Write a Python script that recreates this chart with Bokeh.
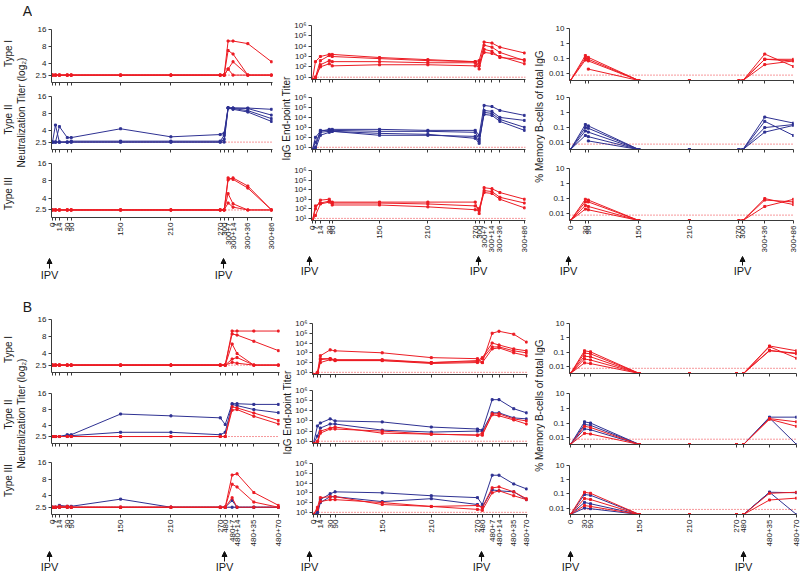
import math
from bokeh.plotting import figure
from bokeh.models import (Range1d, FixedTicker, CustomJSTickFormatter, Span, Arrow,
                          NormalHead, Label)
from bokeh.layouts import row, column
from bokeh.embed import file_html
from bokeh.resources import INLINE

N = float("nan")
RED = "#ec1c24"
BLUE = "#2e3192"
FONT = "Liberation Sans"
PI2 = math.pi / 2

# ---------------- tick labels (time points, days) ----------------
A_NT_DAYS = ["0", "7", "14", "30", "90", "150", "210", "270", "300", "300+7", "300+14", "300+36", "300+86"]
A_MEM_DAYS = ["0", "30", "90", "150", "210", "270", "300", "300+36", "300+86"]
B_NT_DAYS = ["0", "7", "14", "30", "90", "150", "210", "270", "480", "480+7", "480+14", "480+35", "480+70"]
B_MEM_DAYS = ["0", "30", "90", "150", "210", "270", "480", "480+35", "480+70"]

# axis position of each time point (broken, non-linear time axis)
A_NT_POS = [0, 3, 7, 15, 19, 69, 120, 170, 174, 178, 183, 198, 222]
A_IGG_POS = [0, 3, 8, 17, 20, 68, 117, 165, 169, 174, 182, 190, 215]
A_MEM_POS = [0, 15, 18, 69, 120, 170, 174, 196, 225]
B_NT_POS = [0, 3, 7, 15, 19, 69, 120, 170, 175, 182, 187, 204, 229]
B_IGG_POS = [0, 4, 7, 17, 22, 70, 120, 167, 172, 182, 189, 204, 217]
B_MEM_POS = [0, 14, 20, 69, 119, 166, 173, 199, 226]

# ---------------- y ticks ----------------
NT_TICKS = [2.5, 4, 8, 16]
IGG_TICKS = [10, 100, 1000, 10000, 100000, 1000000]
MEM_TICKS = [0.01, 0.1, 1, 10]

# ---------------- Panel A : neutralization titers ----------------
A_NT_I_RED = [
    [2.5, 2.5, 2.5, 2.5, 2.5, 2.5, 2.5, 2.5, 2.5, 10, 10, 9, 4.3],
    [2.5, 2.5, 2.5, 2.5, 2.5, 2.5, 2.5, 2.5, 2.5, 6.8, 5.9, 2.5, 2.5],
    [2.5, 2.5, 2.5, 2.5, 2.5, 2.5, 2.5, 2.5, 2.5, 3.2, 4.3, 2.5, 2.5],
    [2.5, 2.5, 2.5, 2.5, 2.5, 2.5, 2.5, 2.5, 2.5, 3.2, 2.5, 2.5, 2.5],
]
A_NT_II_BLUE = [
    [2.5, 5.0, 2.5, 2.5, 2.6, 2.6, 2.6, 2.6, 3.3, 10, 10, 10, 9.5],
    [2.5, 2.5, 4.7, 3.0, 3.0, 4.3, 3.1, 3.4, 3.6, 10.2, 10, 9.8, 7.5],
    [2.5, 2.5, 2.5, 2.5, 2.5, 2.5, 2.5, 2.5, 2.8, 10, 9.8, 9, 6.5],
    [2.5, 2.5, 2.5, 2.5, 2.5, 2.5, 2.5, 2.5, 2.5, 10, 9.5, 8.5, 5.8],
]
A_NT_III_RED = [
    [2.5, 2.5, 2.5, 2.5, 2.5, 2.5, 2.5, 2.5, 2.5, 8.3, 9.0, 6.5, 2.5],
    [2.5, 2.5, 2.5, 2.5, 2.5, 2.5, 2.5, 2.5, 2.5, 9.0, 8.5, 6.0, 2.5],
    [2.5, 2.5, 2.5, 2.5, 2.5, 2.5, 2.5, 2.5, 2.5, 4.8, 3.2, 2.5, 2.5],
    [2.5, 2.5, 2.5, 2.5, 2.5, 2.5, 2.5, 2.5, 2.5, 3.3, 2.8, 2.5, 2.5],
]
# ---------------- Panel A : IgG end-point titers ----------------
A_IGG_I_RED = [
    [6, 320, 1000, 1600, 1600, 800, 500, 320, 400, 25000, 20000, 8000, 2200],
    [6, 10, 400, 1250, 1000, 630, 400, 320, 125, 12500, 8000, 2500, 400],
    [6, 6, 160, 400, 320, 320, 250, 250, 63, 5000, 3200, 800, 500],
    [6, 10, 100, 200, 125, 160, 160, 125, 250, 2500, 2000, 1000, 200],
]
A_IGG_II_BLUE = [
    [6, 100, 400, 630, 630, 630, 500, 500, 160, 160000, 125000, 50000, 16000],
    [6, 10, 500, 500, 500, 400, 400, 320, 63, 32000, 25000, 6300, 1000],
    [6, 32, 320, 400, 400, 160, 160, 125, 40, 20000, 16000, 4000, 500],
    [6, 6, 160, 320, 400, 250, 200, 80, 25, 50000, 40000, 10000, 5000],
]
A_IGG_III_RED = [
    [6, 200, 400, 630, 500, 500, 500, 500, 32, 16000, 12500, 5000, 1000],
    [6, 100, 800, 1000, 400, 400, 320, 200, 100, 8000, 6300, 1600, 400],
    [6, 20, 320, 500, 250, 250, 160, 80, 63, 5000, 4000, 1000, 125],
]
# ---------------- Panel A : % memory B cells (0 = not detected) ----------------
A_MEM_I_RED = [
    [0, 0.16, 0.12, 0, 0, 0, 0, 0.2, 0.03],
    [0, 0.11, 0.09, 0, 0, 0, 0, 0.09, 0.09],
    [0, 0.08, 0.07, 0, 0, 0, 0, 0.04, 0.07],
    [0, N, 0.02, 0, 0, 0, 0, 0.09, 0.07],
]
A_MEM_II_BLUE = [
    [0, 0.16, 0.13, 0, 0, 0, 0, 0.5, 0.2],
    [0, 0.1, 0.09, 0, 0, 0, 0, 0.26, 0.03],
    [0, 0.06, 0.05, 0, 0, 0, 0, 0.1, 0.16],
    [0, 0.03, 0.025, 0, 0, 0, 0, 0.05, 0.14],
    [0, N, 0.013, 0, 0, 0, 0, N, N],
]
A_MEM_III_RED = [
    [0, 0.09, 0.08, 0, 0, 0, 0, 0.1, 0.04],
    [0, 0.06, 0.06, 0, 0, 0, 0, 0.08, 0.06],
    [0, 0.035, 0.03, 0, 0, 0, 0, 0.03, 0.09],
    [0, 0.02, 0.018, 0, 0, 0, 0, N, N],
]

# ---------------- Panel B : neutralization titers ----------------
B_NT_I_RED = [
    [2.5, 2.5, 2.5, 2.5, 2.5, 2.5, 2.5, 2.5, 2.5, 10, 10, 10, 10],
    [2.5, 2.5, 2.5, 2.5, 2.5, 2.5, 2.5, 2.5, 2.5, 8.9, 8.5, 6.6, 4.5],
    [2.5, 2.5, 2.5, 2.5, 2.5, 2.5, 2.5, 2.5, 2.5, 5.9, 4.0, 2.5, 2.5],
    [2.5, 2.5, 2.5, 2.5, 2.5, 2.5, 2.5, 2.5, 2.5, 3.2, 3.4, 2.5, 2.5],
    [2.5, 2.5, 2.5, 2.5, 2.5, 2.5, 2.5, 2.5, 2.5, 2.8, 2.7, 2.5, 2.5],
]
B_NT_II_BLUE = [
    [2.5, 2.5, 2.5, 2.7, 2.7, 6.6, 6.1, 5.6, 4.2, 10.3, 10.3, 10, 10],
    [2.5, 2.5, 2.5, 2.6, 2.6, 3.0, 3.0, 2.7, 3.0, 10, 9.5, 8, 7],
]
B_NT_II_RED = [
    [2.5, 2.5, 2.5, 2.5, 2.5, 2.5, 2.5, 2.5, 2.5, 9, 8.6, 6.9, 5],
    [2.5, 2.5, 2.5, 2.5, 2.5, 2.5, 2.5, 2.5, 2.5, 7.8, 8, 6, 4.3],
]
B_NT_III_BLUE = [
    [2.5, 2.5, 2.7, 2.6, 2.6, 3.5, 2.5, 2.5, 2.5, 3.3, 2.5, 2.5, 2.5],
    [2.5, 2.5, 2.5, 2.5, 2.5, 2.5, 2.5, 2.5, 2.5, 2.5, 2.5, 2.5, 2.5],
]
B_NT_III_RED = [
    [2.5, 2.5, 2.6, 2.6, 2.5, 2.5, 2.5, 2.5, 2.5, 9.5, 10, 4.6, 2.7],
    [2.5, 2.5, 2.5, 2.5, 2.5, 2.5, 2.5, 2.5, 2.5, 6.5, 5.8, 3.1, 2.5],
    [2.5, 2.5, 2.5, 2.5, 2.5, 2.5, 2.5, 2.5, 2.5, 3.7, 2.5, 2.5, 2.5],
]
# ---------------- Panel B : IgG end-point titers ----------------
B_IGG_I_RED = [
    [6, 10, 500, 2000, 1600, 1000, 320, 250, 100, 100000, 160000, 80000, 12500],
    [6, 6, 200, 250, 200, 200, 100, 160, 320, 10000, 6300, 2500, 1600],
    [6, 6, 250, 250, 160, 160, 80, 100, 250, 4000, 4000, 1600, 1000],
    [6, 6, 100, 200, 160, 160, 100, 125, 100, 2500, 3200, 1000, 500],
]
B_IGG_II_BLUE = [
    [6, 320, 630, 1600, 1000, 800, 250, 160, 125, 125000, 125000, 16000, 6300],
    [6, 32, 200, 500, 500, 125, 80, 100, 100, 6300, 6300, 2000, 1600],
]
B_IGG_II_RED = [
    [6, 10, 100, 200, 250, 63, 50, 40, 63, 5000, 5000, 1600, 1000],
    [6, 6, 63, 160, 160, 100, 50, 40, 40, 4000, 3200, 1250, 500],
]
B_IGG_III_BLUE = [
    [6, 10, 200, 800, 1250, 1000, 500, 320, 63, 63000, 63000, 8000, 2500],
    [6, 6, 100, 400, 400, 125, 250, 63, 32, 2000, 1600, 1250, 200],
]
B_IGG_III_RED = [
    [6, 32, 320, 400, 400, 63, 40, 50, 32, 3200, 4000, 1250, 250],
    [6, 20, 125, 200, 200, 100, 40, 20, 16, 1000, 1600, 500, 200],
]
# ---------------- Panel B : % memory B cells ----------------
B_MEM_I_RED = [
    [0, 0.13, 0.11, 0, 0, 0, 0, 0.28, 0.13],
    [0, 0.09, 0.08, 0, 0, 0, 0, 0.14, 0.08],
    [0, 0.055, 0.05, 0, 0, 0, 0, 0.25, 0.04],
    [0, 0.035, 0.03, 0, 0, 0, 0, 0.13, 0.09],
    [0, 0.019, 0.017, 0, 0, 0, 0, N, N],
]
B_MEM_II_BLUE = [
    [0, 0.12, 0.1, 0, 0, 0, 0, 0.25, 0.25],
    [0, 0.08, 0.07, 0, 0, 0, 0, 0.22, 0],
    [0, 0.04, 0.035, 0, 0, 0, 0, N, N],
]
B_MEM_II_RED = [
    [0, 0.06, 0.05, 0, 0, 0, 0, 0.2, 0.12],
    [0, 0.02, 0.018, 0, 0, 0, 0, 0.18, 0.06],
]
B_MEM_III_BLUE = [
    [0, 0.09, 0.08, 0, 0, 0, 0, 0.13, 0],
    [0, 0.025, 0.02, 0, 0, 0, 0, 0.13, 0.12],
    [0, 0.01, 0.009, 0, 0, 0, 0, N, N],
]
B_MEM_III_RED = [
    [0, 0.13, 0.11, 0, 0, 0, 0, 0.11, 0.13],
    [0, 0.047, 0.04, 0, 0, 0, 0, 0.037, 0.05],
    [0, 0.015, 0.013, 0, 0, 0, 0, N, N],
]

# ---------------- y-axis kinds ----------------
KINDS = {
    "nt": dict(ylim=(1.85, 16), ticks=NT_TICKS, lod=2.5,
               code="return tick.toString();"),
    "igg": dict(ylim=(6, 1000000), ticks=IGG_TICKS, lod=10,
                code="const s=['\u2070','\u00b9','\u00b2','\u00b3','\u2074','\u2075','\u2076'];"
                     "return '10'+s[Math.round(Math.log10(tick))];"),
    "mem": dict(ylim=(0.0035, 10), ticks=MEM_TICKS, lod=0.008,
                code="return tick.toString();"),
}


def series(blue=None, red=None):
    out = []
    for vals in (blue or []):
        out.append((BLUE, vals))
    for vals in (red or []):
        out.append((RED, vals))
    return out


BLOCKS = [
    dict(top=0, ipv_top=255, bottom=290,
         labels=[
             (0, 32, [("A", 27, 10, "14px", 0), ("Type I", 8, 53, "10px", PI2),
                      ("Type II", 8, 119, "10px", PI2), ("Type III", 8, 193, "10px", PI2),
                      ("Neutralization Titer (log\u2082)", 21, 112, "10px", PI2)]),
             (280, 291, [("IgG End-point Titer", 285.5, 118, "10px", PI2)]),
             (532, 545, [("% Memory B-cells of total IgG", 538.5, 116, "10px", PI2)]),
         ],
         cols=[
             dict(kind="nt", left=32, right=280, fl=48, fr=272, pos=A_NT_POS, days=A_NT_DAYS,
                  frames=[(29, 82), (96, 149), (163, 217)], arrow=(268, 258), text_y=274,
                  ipv=[0, 8], ipv_span=(0, 280),
                  rows=[series(red=A_NT_I_RED), series(blue=A_NT_II_BLUE), series(red=A_NT_III_RED)]),
             dict(kind="igg", left=291, right=532, fl=308, fr=525, pos=A_IGG_POS, days=A_NT_DAYS,
                  frames=[(25, 79), (97, 149), (170, 221)], arrow=(265, 256), text_y=270,
                  ipv=[0, 8], ipv_span=(280, 532),
                  rows=[series(red=A_IGG_I_RED), series(blue=A_IGG_II_BLUE), series(red=A_IGG_III_RED)]),
             dict(kind="mem", left=545, right=800, fl=567, fr=793, pos=A_MEM_POS, days=A_MEM_DAYS,
                  frames=[(28, 80), (97, 149), (168, 220)], arrow=(265, 256), text_y=270,
                  ipv=[0, 6], ipv_span=(532, 800),
                  rows=[series(red=A_MEM_I_RED), series(blue=A_MEM_II_BLUE), series(red=A_MEM_III_RED)]),
         ]),
    dict(top=290, ipv_top=549, bottom=573,
         labels=[
             (0, 32, [("B", 27, 306, "14px", 0), ("Type I", 8, 349, "10px", PI2),
                      ("Type II", 8, 414, "10px", PI2), ("Type III", 8, 480, "10px", PI2),
                      ("Neutralization Titer (log\u2082)", 21, 413, "10px", PI2)]),
             (282, 292, [("IgG End-point Titer", 287, 412, "10px", PI2)]),
             (532, 545, [("% Memory B-cells of total IgG", 538.5, 405, "10px", PI2)]),
         ],
         cols=[
             dict(kind="nt", left=32, right=282, fl=48, fr=279, pos=B_NT_POS, days=B_NT_DAYS,
                  frames=[(319, 372), (393, 443), (462, 515)], arrow=(561, 551), text_y=566,
                  ipv=[0, 8], ipv_span=(0, 282),
                  rows=[series(red=B_NT_I_RED), series(blue=B_NT_II_BLUE, red=B_NT_II_RED),
                        series(blue=B_NT_III_BLUE, red=B_NT_III_RED)]),
             dict(kind="igg", left=292, right=532, fl=308, fr=527, pos=B_IGG_POS, days=B_NT_DAYS,
                  frames=[(323, 374), (390, 443), (463, 517)], arrow=(561, 551), text_y=566,
                  ipv=[0, 8], ipv_span=(282, 532),
                  rows=[series(red=B_IGG_I_RED), series(blue=B_IGG_II_BLUE, red=B_IGG_II_RED),
                        series(blue=B_IGG_III_BLUE, red=B_IGG_III_RED)]),
             dict(kind="mem", left=545, right=800, fl=569, fr=796, pos=B_MEM_POS, days=B_MEM_DAYS,
                  frames=[(323, 373), (393, 444), (465, 516)], arrow=(561, 551), text_y=566,
                  ipv=[0, 6], ipv_span=(532, 800),
                  rows=[series(red=B_MEM_I_RED), series(blue=B_MEM_II_BLUE, red=B_MEM_II_RED),
                        series(blue=B_MEM_III_BLUE, red=B_MEM_III_RED)]),
         ]),
]


def base_fig(w, h, xr, yr, bl, br, bt, bb, log=False, axes=True):
    kw = dict(width=w, height=h, x_range=xr, y_range=yr, output_backend="svg",
              toolbar_location=None, min_border_left=bl, min_border_right=br,
              min_border_top=bt, min_border_bottom=bb)
    if log:
        kw["y_axis_type"] = "log"
    if not axes:
        kw["x_axis_location"] = None
        kw["y_axis_location"] = None
    p = figure(**kw)
    p.title.visible = False
    p.outline_line_color = None
    p.grid.visible = False
    p.background_fill_color = "white"
    p.border_fill_color = "white"
    return p


def style_axis(ax):
    ax.axis_line_color = "#3a3a3a"
    ax.axis_line_width = 1
    ax.major_tick_line_color = "#3a3a3a"
    ax.major_tick_out = 3
    ax.major_tick_in = 0
    ax.minor_tick_line_color = None
    ax.major_label_text_font = FONT
    ax.major_label_text_font_size = "8px"
    ax.major_label_text_color = "#1a1a1a"
    ax.major_label_standoff = 2


def build_stack(col, btop, ipv_top):
    w = col["right"] - col["left"]
    bl = col["fl"] - col["left"]
    br = col["right"] - col["fr"]
    fw = col["fr"] - col["fl"]
    xr = Range1d(-1, fw - 1)
    kind = KINDS[col["kind"]]
    frames = col["frames"]
    edges = [btop,
             (frames[0][1] + frames[1][0]) // 2,
             (frames[1][1] + frames[2][0]) // 2,
             ipv_top]
    figs = []
    for i in range(3):
        ft, fb = frames[i]
        top, bot = edges[i], edges[i + 1]
        p = base_fig(w, bot - top, xr, Range1d(*kind["ylim"]), bl, br, ft - top, bot - fb, log=True)
        xa = p.xaxis[0]
        ya = p.yaxis[0]
        style_axis(xa)
        style_axis(ya)
        xa.ticker = FixedTicker(ticks=col["pos"])
        if i == 2:
            xa.formatter = CustomJSTickFormatter(
                args=dict(pos=col["pos"], labs=col["days"]),
                code="const i = pos.indexOf(tick); return i < 0 ? '' : labs[i];")
            xa.major_label_orientation = PI2
        else:
            xa.formatter = CustomJSTickFormatter(code="return '';")
            xa.major_label_text_font_size = "0px"
            xa.major_label_standoff = 0
        ya.ticker = FixedTicker(ticks=kind["ticks"])
        ya.formatter = CustomJSTickFormatter(code=kind["code"])
        p.add_layout(Span(location=kind["lod"], dimension="width", line_color=RED,
                          line_dash="1 2", line_width=1, line_alpha=0.9, level="underlay"))
        floor = kind["ylim"][0]
        for color, vals in col["rows"][i]:
            ys = [floor if v == 0 else v for v in vals]
            p.line(col["pos"], ys, line_color=color, line_width=1)
            p.scatter(col["pos"], ys, marker="square", size=2, color=color)
        figs.append(p)
    return column(*figs, spacing=0)


def ipv_fig(col, ipv_top, bottom):
    # same pixel scale as the panel's time axis, frame spanning the whole strip
    x0, x1 = col["ipv_span"]
    w = x1 - x0
    hi = bottom - ipv_top
    xr = Range1d(-1 - (col["fl"] - x0), (col["fr"] - col["fl"]) - 1 + (x1 - col["fr"]))
    q = base_fig(w, hi, xr, Range1d(hi, 0), 0, 0, 0, 0, axes=False)
    a0, a1 = col["arrow"]
    for idx in col["ipv"]:
        xd = col["pos"][idx]
        q.add_layout(Arrow(end=NormalHead(size=5, fill_color="#111111", line_color="#111111", line_width=1),
                           x_start=xd, y_start=a0 - ipv_top, x_end=xd, y_end=a1 - ipv_top,
                           line_color="#111111", line_width=1))
        q.add_layout(Label(x=xd, y=col["text_y"] - ipv_top, text="IPV", text_align="center",
                           text_baseline="middle", text_font=FONT, text_font_size="11px",
                           text_color="#1a1a1a"))
    return q


def label_fig(x0, x1, top, bottom, texts):
    w = x1 - x0
    h = bottom - top
    p = base_fig(w, h, Range1d(0, w), Range1d(h, 0), 0, 0, 0, 0, axes=False)
    for text, tx, ty, size, ang in texts:
        p.add_layout(Label(x=tx - x0, y=ty - top, text=text, angle=ang, text_align="center",
                           text_baseline="middle", text_font=FONT, text_font_size=size,
                           text_color="#1a1a1a"))
    return p


blocks = []
for blk in BLOCKS:
    kids = []
    for (x0, x1, texts), col in zip(blk["labels"], blk["cols"]):
        kids.append(label_fig(x0, x1, blk["top"], blk["ipv_top"], texts))
        kids.append(build_stack(col, blk["top"], blk["ipv_top"]))
    upper = row(*kids, spacing=0)
    lower = row(*[ipv_fig(col, blk["ipv_top"], blk["bottom"]) for col in blk["cols"]], spacing=0)
    blocks.append(column(upper, lower, spacing=0))

layout = column(*blocks, spacing=0)

with open("out.html", "w", encoding="utf-8") as f:
    f.write(file_html(layout, INLINE, title="IPV immune responses"))
